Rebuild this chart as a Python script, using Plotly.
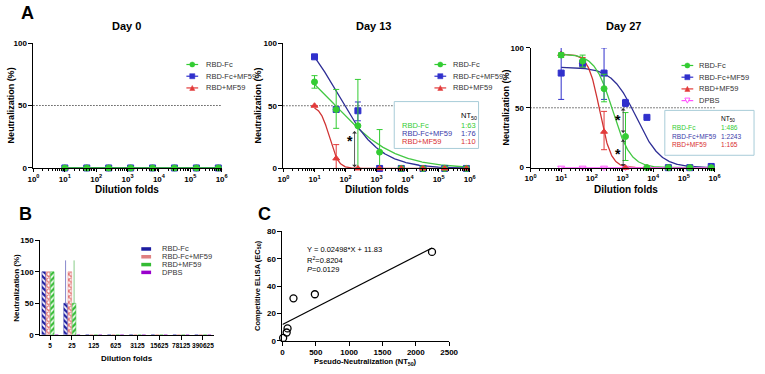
import numpy as np
import plotly.graph_objects as go

W, H = 765, 374
FONT = "Liberation Sans, Arial, sans-serif"

# ---------------- data ----------------
dilutions = [10, 50, 250, 1250, 6250, 31250, 156250, 781250]
series_names = ["RBD-Fc", "RBD-Fc+MF59", "RBD+MF59", "DPBS"]

# Day 0
d0_rbdfc = [0, 0, 0, 0, 0, 0, 0, 0]
d0_rbdfc_mf59 = [0, 0, 0, 0, 0, 0, 0, 0]
d0_rbd_mf59 = [0, 0, 0, 0, 0, 0, 0, 0]

# Day 13
d13_rbdfc = [69, 47, 34, 13, 0, 0, 0, 0]
d13_rbdfc_up = [5, 16, 37, 18, 0, 0, 0, 0]
d13_rbdfc_dn = [5, 15, 34, 13, 0, 0, 0, 0]
d13_rbdfc_mf59 = [89, 47, 46, 0, 0, 0, 0, 0]
d13_rbdfc_mf59_up = [0, 0, 7, 0, 0, 0, 0, 0]
d13_rbdfc_mf59_dn = [0, 0, 8, 0, 0, 0, 0, 0]
d13_rbd_mf59 = [50, 8, 0, 0, 0, 0, 0, 0]
d13_rbd_mf59_up = [0, 11, 0, 0, 0, 0, 0, 0]
d13_rbd_mf59_dn = [0, 8, 0, 0, 0, 0, 0, 0]

# Day 27
d27_rbdfc = [94, 89, 66, 26, 0, 0, 0, 0]
d27_rbdfc_up = [2, 5, 12, 20, 0, 0, 0, 0]
d27_rbdfc_dn = [2, 5, 11, 20, 0, 0, 0, 0]
d27_rbdfc_mf59 = [79, 87, 79, 54, 42, 0, 0, 1]
d27_rbdfc_mf59_up = [22, 3, 21, 3, 0, 0, 0, 0]
d27_rbdfc_mf59_dn = [22, 3, 22, 3, 0, 0, 0, 0]
d27_rbd_mf59 = [95, 88, 30, 0, 0, 0, 0, 0]
d27_rbd_mf59_up = [0, 4, 17, 0, 0, 0, 0, 0]
d27_rbd_mf59_dn = [0, 4, 15, 0, 0, 0, 0, 0]
d27_dpbs = [0, 0, 0, 0, 0, 0, 0, 0]

# four-parameter logistic fits (order: RBD-Fc, RBD-Fc+MF59, RBD+MF59)
d13_fit_top = [100, 120, 50]
d13_fit_ec50 = [48, 53.5, 30]
d13_fit_hill = [0.455, 0.629, 3.0]
d27_fit_top = [95, 84, 95]
d27_fit_ec50 = [480, 2800, 180]
d27_fit_hill = [1.5, 1.1, 2.35]

nt50_d13 = ["1:63", "1:76", "1:10"]
nt50_d27 = ["1:486", "1:2243", "1:165"]

# Panel B
b_categories = ["5", "25", "125", "625", "3125", "15625", "78125", "390625"]
b_rbdfc = [100, 50, 0, 0, 0, 0, 0, 0]
b_rbdfc_err = [0, 68, 0, 0, 0, 0, 0, 0]
b_rbdfc_mf59 = [100, 100, 0, 0, 0, 0, 0, 0]
b_rbdfc_mf59_err = [0, 0, 0, 0, 0, 0, 0, 0]
b_rbd_mf59 = [100, 50, 0, 0, 0, 0, 0, 0]
b_rbd_mf59_err = [0, 68, 0, 0, 0, 0, 0, 0]
b_dpbs = [0, 0, 0, 0, 0, 0, 0, 0]

# Panel C
c_nt50 = [10, 63, 76, 165, 486, 2243]
c_ec50 = [2, 6, 9, 31, 34, 65]
c_slope = 0.02498
c_intercept = 11.83

# ---------------- helpers ----------------
def px(x):
    return x / W

def py(y):
    return 1 - y / H

GREEN, BLUE, RED, PINK = "#33CC33", "#3030CC", "#E23A3A", "#FF55FF"
GREEN_L, BLUE_L, RED_L = "#44C844", "#2E2E96", "#D03333"

def logistic(x, top, ec50, hill):
    x = np.asarray(x, dtype=float)
    return top / (1 + (x / ec50) ** hill)

xs_curve = np.logspace(np.log10(dilutions[0]), np.log10(dilutions[-1]), 300)

fig = go.Figure()

def pts(x, y, name, color, symbol, ax, up=None, dn=None, mode="markers", size=6):
    err = None
    if up is not None:
        err = dict(type="data", symmetric=False, array=up, arrayminus=dn,
                   color=color, thickness=1, width=3)
    fig.add_trace(go.Scatter(
        x=x, y=y, name=name, mode=mode, showlegend=False, cliponaxis=False,
        marker=dict(color=color, symbol=symbol, size=size,
                    line=dict(color=color, width=1)),
        line=dict(color=color, width=1.3),
        error_y=err, xaxis="x" + ax, yaxis="y" + ax))

def curve(top, ec50, hill, color, ax):
    fig.add_trace(go.Scatter(
        x=xs_curve, y=logistic(xs_curve, top, ec50, hill), mode="lines",
        showlegend=False, cliponaxis=False, line=dict(color=color, width=1.3),
        xaxis="x" + ax, yaxis="y" + ax, hoverinfo="skip"))

# Day 0
pts(dilutions, d0_rbd_mf59, "RBD+MF59", RED, "triangle-up", "", mode="lines+markers")
pts(dilutions, d0_rbdfc_mf59, "RBD-Fc+MF59", BLUE, "square", "", mode="lines+markers")
pts(dilutions, d0_rbdfc, "RBD-Fc", GREEN, "circle", "", mode="lines+markers")

# Day 13
curve(d13_fit_top[2], d13_fit_ec50[2], d13_fit_hill[2], RED_L, "2")
curve(d13_fit_top[0], d13_fit_ec50[0], d13_fit_hill[0], GREEN_L, "2")
curve(d13_fit_top[1], d13_fit_ec50[1], d13_fit_hill[1], BLUE_L, "2")
pts(dilutions, d13_rbdfc_mf59, "RBD-Fc+MF59", BLUE, "square", "2", d13_rbdfc_mf59_up, d13_rbdfc_mf59_dn)
pts(dilutions, d13_rbdfc, "RBD-Fc", GREEN, "circle", "2", d13_rbdfc_up, d13_rbdfc_dn)
pts(dilutions, d13_rbd_mf59, "RBD+MF59", RED, "triangle-up", "2", d13_rbd_mf59_up, d13_rbd_mf59_dn)

# Day 27
curve(d27_fit_top[1], d27_fit_ec50[1], d27_fit_hill[1], BLUE_L, "3")
curve(d27_fit_top[2], d27_fit_ec50[2], d27_fit_hill[2], RED_L, "3")
curve(d27_fit_top[0], d27_fit_ec50[0], d27_fit_hill[0], GREEN_L, "3")
pts(dilutions, d27_dpbs, "DPBS", PINK, "triangle-down-open", "3", mode="lines+markers")
pts(dilutions, d27_rbd_mf59, "RBD+MF59", RED, "triangle-up", "3", d27_rbd_mf59_up, d27_rbd_mf59_dn)
pts(dilutions, d27_rbdfc_mf59, "RBD-Fc+MF59", BLUE, "square", "3", d27_rbdfc_mf59_up, d27_rbdfc_mf59_dn)
pts(dilutions, d27_rbdfc, "RBD-Fc", GREEN, "circle", "3", d27_rbdfc_up, d27_rbdfc_dn)

# Panel B bars
bar_specs = [
    (b_rbdfc, b_rbdfc_err, "RBD-Fc", "#1C1CA0", "\\", "#8888CC"),
    (b_rbdfc_mf59, b_rbdfc_mf59_err, "RBD-Fc+MF59", "#E07070", "x", "#E0A0A0"),
    (b_rbd_mf59, b_rbd_mf59_err, "RBD+MF59", "#33BB33", "/", "#88CC88"),
    (b_dpbs, None, "DPBS", "#9900CC", "", "#9900CC"),
]
for vals, err, name, col, shape, ecol in bar_specs:
    fig.add_trace(go.Bar(
        x=b_categories, y=vals, name=name, showlegend=False,
        marker=dict(color=col, line=dict(color=col, width=0.5),
                    pattern=dict(shape=shape, fgcolor=col, bgcolor="white",
                                 size=4, solidity=0.55, fillmode="replace")),
        error_y=(dict(type="data", symmetric=False, array=err,
                      arrayminus=[0] * len(err), color=ecol, thickness=1, width=0)
                 if err is not None else None),
        xaxis="x4", yaxis="y4"))

# Panel C
c_line_x = np.array([0, max(c_nt50)])
fig.add_trace(go.Scatter(x=c_line_x, y=c_slope * c_line_x + c_intercept, mode="lines",
                         line=dict(color="black", width=1.2), showlegend=False,
                         xaxis="x5", yaxis="y5", cliponaxis=False))
fig.add_trace(go.Scatter(x=c_nt50, y=c_ec50, mode="markers", showlegend=False,
                         marker=dict(symbol="circle-open", size=7, color="black",
                                     line=dict(width=1.3, color="black")),
                         xaxis="x5", yaxis="y5", cliponaxis=False))

# ---------------- axes ----------------
TICKFONT = dict(family=FONT, size=8, color="black", weight="bold")

def base_axis(**kw):
    d = dict(showline=True, linecolor="black", linewidth=1, ticks="outside",
             ticklen=4, tickwidth=1, tickcolor="black", showgrid=False,
             zeroline=False, tickfont=TICKFONT, fixedrange=True)
    d.update(kw)
    return d

major_vals = [1, 10, 100, 1e3, 1e4, 1e5, 1e6]
major_text = ["10<sup>%d</sup>" % k for k in range(7)]
minor_vals = [m * 10 ** k for k in range(6) for m in range(2, 10)]

def log_x(domain, anchor):
    return base_axis(type="log", range=[0, 6], domain=domain, anchor=anchor,
                     tickvals=major_vals, ticktext=major_text, ticklen=3,
                     minor=dict(tickvals=minor_vals, ticks="outside", ticklen=2,
                                tickcolor="black", tickwidth=0.8))

def pct_y(domain, anchor):
    return base_axis(range=[0, 100], domain=domain, anchor=anchor,
                     tickvals=[0, 50, 100])

fig.update_layout(
    xaxis=log_x([px(28), px(220)], "y"),
    yaxis=pct_y([py(168), py(40)], "x"),
    xaxis2=log_x([px(283), px(473)], "y2"),
    yaxis2=pct_y([py(168.5), py(40)], "x2"),
    xaxis3=log_x([px(535), px(722.7)], "y3"),
    yaxis3=pct_y([py(167.7), py(45)], "x3"),
    xaxis4=base_axis(type="category", domain=[px(35), px(212)], anchor="y4",
                     range=[-0.45, 7.5], tickangle=0,
                     tickfont=dict(family=FONT, size=6.5, color="black", weight="bold")),
    yaxis4=base_axis(range=[0, 150], domain=[py(339), py(242)], anchor="x4",
                     tickvals=[0, 50, 100, 150]),
    xaxis5=base_axis(range=[0, 2500], domain=[px(282), px(452)], anchor="y5",
                     tickvals=[0, 500, 1000, 1500, 2000, 2500]),
    yaxis5=base_axis(range=[0, 80], domain=[py(345), py(233)], anchor="x5",
                     tickvals=[0, 20, 40, 60, 80]),
    barmode="group", bargap=0.22, bargroupgap=0.15,
)

# ---------------- decorations ----------------
shapes = []
annotations = []

def text(x, y, s, size=8, bold=False, color="black", xanchor="center",
         yanchor="middle", angle=0):
    annotations.append(dict(
        x=px(x), y=py(y), xref="paper", yref="paper", text=s, showarrow=False,
        xanchor=xanchor, yanchor=yanchor, textangle=angle,
        font=dict(family=FONT, size=size, color=color,
                  weight="bold" if bold else "normal")))

# dotted 50% lines
for ax in ["", "2", "3"]:
    shapes.append(dict(type="line", xref="x%s domain" % ax, yref="y" + ax,
                       x0=0, x1=1, y0=50, y1=50, layer="below",
                       line=dict(color="black", width=1, dash="1px,2px")))

# panel letters, titles
text(22, 9, "A", size=18, bold=True)
text(20, 215, "B", size=18, bold=True)
text(264, 215, "C", size=18, bold=True)
for cx, title in [(123, "Day 0"), (375, "Day 13"), (630, "Day 27")]:
    text(cx, 23, title, size=11, bold=True)
for cx in [123, 378, 632]:
    text(cx, 190, "Dilution folds", size=10, bold=True)
for cx, cy in [(6, 104), (258, 104), (510, 106)]:
    text(cx, cy, "Neutralization (%)", size=9, bold=True, angle=-90)
text(11, 291, "Neutralization (%)", size=8, bold=True, angle=-90)
text(123, 363, "Dilution folds", size=8, bold=True)
text(257, 288, "Competitive ELISA (EC<sub>50</sub>)", size=7.5, bold=True, angle=-90)
text(367, 367, "Pseudo-Neutralization (NT<sub>50</sub>)", size=7.5, bold=True)

# regression text
text(305, 252, "Y = 0.02498*X + 11.83", size=7.5, xanchor="left")
text(305, 262, "R<sup>2</sup>=0.8204", size=7.5, xanchor="left")
text(305, 272, "<i>P</i>=0.0129", size=7.5, xanchor="left")

# custom legends
def leg_item(kind, cx, cy, color, label, tx, fs=7.5):
    s = 2.6
    shapes.append(dict(type="line", xref="paper", yref="paper",
                       x0=px(cx - 6), x1=px(cx + 6), y0=py(cy), y1=py(cy),
                       line=dict(color=color, width=1.2)))
    if kind == "circle":
        shapes.append(dict(type="circle", xref="paper", yref="paper",
                           x0=px(cx - s), x1=px(cx + s), y0=py(cy + s), y1=py(cy - s),
                           fillcolor=color, line=dict(color=color, width=0.5)))
    elif kind == "square":
        shapes.append(dict(type="rect", xref="paper", yref="paper",
                           x0=px(cx - s), x1=px(cx + s), y0=py(cy + s), y1=py(cy - s),
                           fillcolor=color, line=dict(color=color, width=0.5)))
    elif kind == "tri":
        shapes.append(dict(type="path", xref="paper", yref="paper",
                           path="M %f,%f L %f,%f L %f,%f Z" % (
                               px(cx - s), py(cy + s), px(cx + s), py(cy + s), px(cx), py(cy - s)),
                           fillcolor=color, line=dict(color=color, width=0.5)))
    elif kind == "tridown":
        shapes.append(dict(type="path", xref="paper", yref="paper",
                           path="M %f,%f L %f,%f L %f,%f Z" % (
                               px(cx - s), py(cy - s), px(cx + s), py(cy - s), px(cx), py(cy + s)),
                           fillcolor="white", line=dict(color=color, width=1)))
    text(tx, cy, label, size=fs, color="#333333", xanchor="left")

kinds = ["circle", "square", "tri", "tridown"]
cols = [GREEN, BLUE, RED, PINK]
for i in range(3):
    leg_item(kinds[i], 190, 62 + 12 * i, cols[i], series_names[i], 202)
    leg_item(kinds[i], 443, 62 + 12 * i, cols[i], series_names[i], 454)
for i in range(4):
    leg_item(kinds[i], 695, 63 + 12 * i, cols[i], series_names[i], 705)

b_sw_cols = ["#1C1CA0", "#E08080", "#33BB33", "#9900CC"]
for i in range(4):
    cy = 251 + 8 * i
    shapes.append(dict(type="rect", xref="paper", yref="paper",
                       x0=px(138), x1=px(148), y0=py(cy + 1.8), y1=py(cy - 1.8),
                       fillcolor=b_sw_cols[i], line=dict(width=0)))
    text(157, cy, series_names[i], size=7.5, color="#333333", xanchor="left")

# NT50 boxes
def nt_box(x0, x1, y0, y1, name_x, val_x, top_y, vals, fs):
    shapes.append(dict(type="rect", xref="paper", yref="paper",
                       x0=px(x0), x1=px(x1), y0=py(y1), y1=py(y0),
                       fillcolor="white", line=dict(color="#A8CCD8", width=1)))
    text(val_x, top_y, "NT<sub>50</sub>", size=fs, xanchor="left")
    for i, (nm, v) in enumerate(zip(series_names[:3], vals)):
        c = [GREEN, "#3A3AA8", "#D83030"][i]
        text(name_x, top_y + 9 + 8.5 * i, nm, size=fs, color=c, xanchor="left")
        text(val_x, top_y + 9 + 8.5 * i, v, size=fs, color=c, xanchor="left")

nt_box(396, 482, 100, 148, 402, 462, 115, nt50_d13, 7.5)
nt_box(672, 763, 109, 155, 677, 727, 118, nt50_d27, 6.6)

# significance arrows and asterisks
def sig_arrow(ax, xval, y_from, y_to):
    annotations.append(dict(
        xref="x" + ax, yref="y" + ax, axref="x" + ax, ayref="y" + ax,
        x=np.log10(xval), y=y_to, ax=np.log10(xval), ay=y_from, text="",
        showarrow=True, arrowhead=1, startarrowhead=1, arrowside="end+start",
        arrowsize=1, arrowwidth=0.8, arrowcolor="#333333"))

def star(ax, xval, yval):
    annotations.append(dict(
        xref="x" + ax, yref="y" + ax, x=np.log10(xval), y=yval, text="*",
        showarrow=False, font=dict(family=FONT, size=14, color="black", weight="bold")))

sig_arrow("2", 195, 31, 1)
star("2", 135, 22)
sig_arrow("3", 1050, 51, 29)
sig_arrow("3", 1050, 25, 1)
star("3", 690, 40)
star("3", 690, 11)

fig.update_layout(
    width=W, height=H, margin=dict(l=0, r=0, t=0, b=0),
    paper_bgcolor="white", plot_bgcolor="white", showlegend=False,
    shapes=shapes, annotations=annotations,
    font=dict(family=FONT, size=8, color="black"),
)

fig.write_html("out.html", config={"displayModeBar": False},
               post_script="document.body.style.margin='0';")
